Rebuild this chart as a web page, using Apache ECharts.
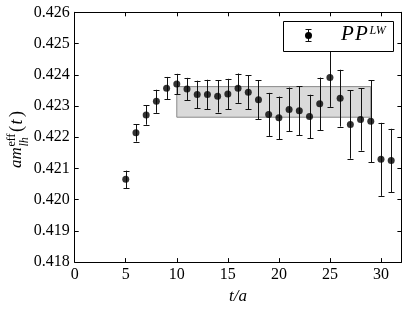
<!DOCTYPE html>
<html>
<head>
<meta charset="utf-8">
<script src="https://cdn.jsdelivr.net/npm/echarts@6/dist/echarts.min.js"></script>
<style>html,body{margin:0;padding:0;background:#fff}#c{width:407px;height:310px}</style>
</head>
<body>
<div id="c"></div>
<script>
const tValues = [5,6,7,8,9,10,11,12,13,14,15,16,17,18,19,20,21,22,23,24,25,26,27,28,29,30,31];
const meffValues = [0.42065,0.42214,0.42271,0.42315,0.42357,0.42370,0.42354,0.42337,0.42337,0.42331,0.42338,0.42357,0.42344,0.42320,0.42273,0.42262,0.42289,0.42285,0.42266,0.42307,0.42391,0.42325,0.42241,0.42257,0.42251,0.42129,0.42125];
const meffErrors = [0.00028,0.00028,0.00031,0.00037,0.00036,0.00033,0.00036,0.00044,0.00047,0.00052,0.00049,0.00047,0.00054,0.00063,0.00069,0.00068,0.00070,0.00078,0.00070,0.00084,0.00094,0.00091,0.00110,0.00100,0.00132,0.00117,0.00102];
const fitRange = [10, 29];
const fitBand = [0.42264, 0.42362];
const xTicks = [0,5,10,15,20,25,30];
const yTicks = [0.418,0.419,0.420,0.421,0.422,0.423,0.424,0.425,0.426];

const serif = '"Liberation Serif", "DejaVu Serif", serif';
const chart = echarts.init(document.getElementById('c'));

const pts = tValues.map((t,i)=>[t, meffValues[i], meffErrors[i]]);

const tickCommon = {show:true, inside:true, length:4, lineStyle:{color:'#000', width:1}};
const lineCommon = {show:true, onZero:false, lineStyle:{color:'#000', width:1}};

function txt(x, y, s, font, rot, extra) {
  return Object.assign({type:'text', z:101, x:x, y:y, rotation:rot||0,
    style:{text:s, font:font, fill:'#000', align:'left', verticalAlign:'middle'}}, extra||{});
}

chart.setOption({
  animation:false,
  grid:{left:74.7, right:5.6, top:12.3, bottom:44.3, containLabel:false},
  xAxis:[{
    type:'value', min:0, max:32, interval:5, position:'bottom',
    axisLine:lineCommon, axisTick:tickCommon, splitLine:{show:false},
    axisLabel:{margin:5, fontFamily:serif, fontSize:16, color:'#000',
      formatter:v=> xTicks.includes(v) ? String(v) : ''},
    name:'t/a', nameLocation:'middle', nameGap:23,
    nameTextStyle:{fontFamily:serif, fontSize:17, fontStyle:'italic', color:'#000'}
  },{
    type:'value', min:0, max:32, interval:5, position:'top',
    axisLine:lineCommon, axisTick:tickCommon, splitLine:{show:false}, axisLabel:{show:false}
  }],
  yAxis:[{
    type:'value', min:0.418, max:0.426, interval:0.001, position:'left',
    axisLine:lineCommon, axisTick:tickCommon, splitLine:{show:false},
    axisLabel:{margin:5, fontFamily:serif, fontSize:16, color:'#000',
      formatter:v=>{const r=Math.round(v*1000)/1000; return yTicks.some(y=>Math.abs(y-r)<1e-9)? r.toFixed(3):'';}}
  },{
    type:'value', min:0.418, max:0.426, interval:0.001, position:'right',
    axisLine:lineCommon, axisTick:tickCommon, splitLine:{show:false}, axisLabel:{show:false}
  }],
  series:[
    {
      type:'custom', z:1, silent:true,
      data:[[fitRange[0], fitRange[1], fitBand[0], fitBand[1]]],
      renderItem:(params, api)=>{
        const a = api.coord([api.value(0), api.value(3)]);
        const b = api.coord([api.value(1), api.value(2)]);
        return {type:'rect', shape:{x:a[0], y:a[1], width:b[0]-a[0], height:b[1]-a[1]},
          style:{fill:'#dadada', stroke:'#8a8a8a', lineWidth:1}};
      }
    },
    {
      type:'custom', z:2, silent:true,
      data:pts,
      renderItem:(params, api)=>{
        const x = api.value(0), y = api.value(1), e = api.value(2);
        const top = api.coord([x, y+e]), bot = api.coord([x, y-e]);
        const cx = Math.round(top[0]) + 0.5;
        const st = {stroke:'#111', lineWidth:1};
        return {type:'group', children:[
          {type:'line', shape:{x1:cx, y1:top[1], x2:cx, y2:bot[1]}, style:st},
          {type:'line', shape:{x1:cx-3, y1:Math.round(top[1])+0.5, x2:cx+3, y2:Math.round(top[1])+0.5}, style:st},
          {type:'line', shape:{x1:cx-3, y1:Math.round(bot[1])+0.5, x2:cx+3, y2:Math.round(bot[1])+0.5}, style:st}
        ]};
      }
    },
    {
      type:'scatter', z:3, silent:true, symbol:'circle', symbolSize:7,
      itemStyle:{color:'#000'},
      data:pts.map(p=>[p[0], p[1]])
    }
  ],
  graphic:[
    {type:'rect', z:100, x:0, y:0, shape:{x:283.5, y:21.5, width:110, height:30}, style:{fill:'#fff', stroke:'#000', lineWidth:1}},
    {type:'line', z:101, x:0, y:0, shape:{x1:308.5, y1:29.5, x2:308.5, y2:41.5}, style:{stroke:'#111', lineWidth:1}},
    {type:'line', z:101, x:0, y:0, shape:{x1:305.5, y1:29.5, x2:311.5, y2:29.5}, style:{stroke:'#111', lineWidth:1}},
    {type:'line', z:101, x:0, y:0, shape:{x1:305.5, y1:41.5, x2:311.5, y2:41.5}, style:{stroke:'#111', lineWidth:1}},
    {type:'circle', z:101, x:0, y:0, shape:{cx:308.5, cy:35.5, r:3.5}, style:{fill:'#000'}},
    txt(341, 34, 'P', 'italic 21px '+serif),
    txt(355, 34, 'P', 'italic 21px '+serif),
    txt(369.5, 30.5, 'LW', 'italic 12px '+serif),
    txt(17, 168, 'am', 'italic 17px '+serif, Math.PI/2),
    txt(12, 146.5, 'eff', '12px '+serif, Math.PI/2),
    txt(24.5, 146.5, 'lh', 'italic 12px '+serif, Math.PI/2),
    txt(17, 132, '(', '18px '+serif, Math.PI/2),
    txt(17, 124.5, 't', 'italic 18px '+serif, Math.PI/2),
    txt(17, 117, ')', '18px '+serif, Math.PI/2)
  ]
});
</script>
</body>
</html>
